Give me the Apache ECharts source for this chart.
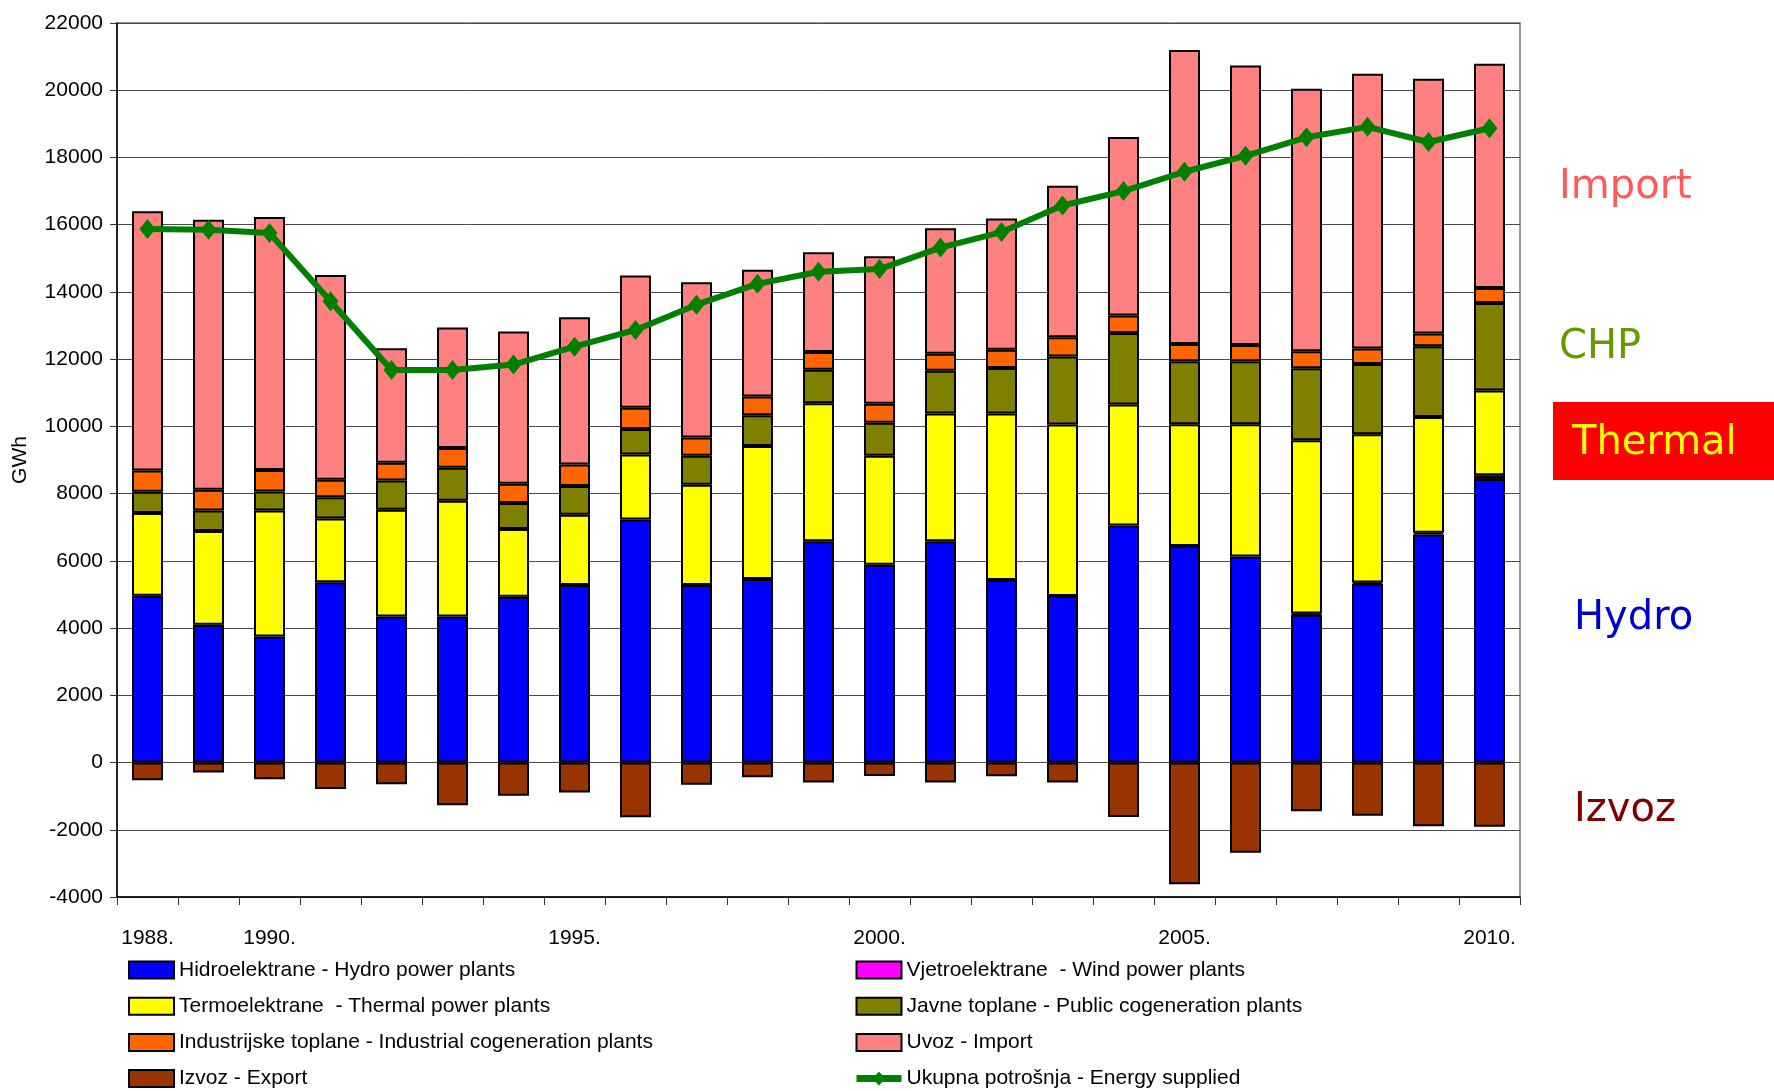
<!DOCTYPE html>
<html>
<head>
<meta charset="utf-8">
<title>Electricity supply 1988-2010</title>
<script src="https://cdn.jsdelivr.net/npm/echarts@6/dist/echarts.min.js"></script>
<style>
  html, body { margin: 0; padding: 0; background: #ffffff; }
  #chart { width: 1774px; height: 1091px; }
</style>
</head>
<body>
<div id="chart"></div>
<script>
// Yearly electricity balance, GWh
const years = ['1988','1989','1990','1991','1992','1993','1994','1995','1996','1997','1998','1999',
               '2000','2001','2002','2003','2004','2005','2006','2007','2008','2009','2010'];
const labelledYears = ['1988','1990','1995','2000','2005','2010'];

const hydro      = [4960,4100,3750,5360,4345,4345,4930,5280,7230,5285,5457,6583,5881,6583,5430,4954,7050,6440,6127,4395,5313,6785,8433];
const wind       = [null,null,null,null,null,null,null,null,null,null,null,null,null,null,null,null,null,null,null,35,40,50,115];
const thermal    = [2460,2785,3750,1900,3175,3443,2014,2091,1935,2980,3960,4106,3245,3801,4954,5099,3600,3623,3936,5156,4414,3442,2520];
const publicCHP  = [635,615,565,635,873,982,774,853,755,861,914,993,980,1272,1351,2027,2125,1878,1878,2141,2091,2108,2602];
const industCHP  = [635,615,635,516,526,586,576,645,636,543,556,530,569,503,543,569,520,510,477,510,462,379,445];
const importData = [7710,8035,7530,6090,3408,3584,4528,4381,3934,4622,3775,2967,4385,3735,3907,4511,5316,8746,8318,7807,8169,7576,6670];
const exportData = [-530,-300,-500,-790,-645,-1270,-990,-890,-1630,-660,-437,-596,-397,-596,-411,-596,-1620,-3623,-2685,-1449,-1581,-1894,-1910];
const supplied   = [15870,15850,15750,13720,11680,11680,11840,12370,12870,13620,14240,14600,14680,15320,15780,16570,17000,17575,18050,18600,18910,18460,18870];

const NAMES = {
  hydro: 'Hidroelektrane - Hydro power plants',
  wind: 'Vjetroelektrane  - Wind power plants',
  thermal: 'Termoelektrane  - Thermal power plants',
  pub: 'Javne toplane - Public cogeneration plants',
  ind: 'Industrijske toplane - Industrial cogeneration plants',
  imp: 'Uvoz - Import',
  exp: 'Izvoz - Export',
  sup: 'Ukupna potrošnja - Energy supplied'
};

const FONT = "'Liberation Sans', Arial, sans-serif";
const ANNOT_FONT = "'DejaVu Sans', Verdana, sans-serif";

function barSeries(name, data, color) {
  return {
    name: name,
    type: 'bar',
    stack: 'balance',
    barWidth: 31,
    data: data,
    itemStyle: { color: color, borderColor: '#000000', borderWidth: 2 },
    emphasis: { disabled: true }
  };
}

const legendText = { fontFamily: FONT, fontSize: 21, color: '#000000', lineHeight: 22 };

function legendColumn(left, items) {
  return {
    orient: 'vertical', left: left, top: 959, height: 135,
    padding: 0,
    itemWidth: 45, itemHeight: 17, itemGap: 14.2,
    textStyle: legendText, selectedMode: false,
    data: items
  };
}

function boxItem(name) {
  return { name: name, icon: 'rect' };
}

const chart = echarts.init(document.getElementById('chart'), null, { renderer: 'canvas' });

chart.setOption({
  animation: false,
  backgroundColor: '#ffffff',
  grid: {
    left: 117, top: 23, right: 254, bottom: 194,
    containLabel: false,
    outerBoundsMode: 'none',
    show: true, borderColor: '#999999', borderWidth: 2, backgroundColor: 'transparent'
  },
  xAxis: {
    type: 'category',
    data: years,
    boundaryGap: true,
    axisLine: { onZero: false, lineStyle: { color: '#000000', width: 1.5 } },
    axisTick: { show: true, interval: 0, alignWithLabel: false, length: 8, lineStyle: { color: '#333333', width: 1 } },
    axisLabel: {
      interval: function (idx, val) { return labelledYears.indexOf(val) >= 0; },
      formatter: function (v) { return v + '.'; },
      fontFamily: FONT, fontSize: 21, color: '#000000', margin: 31
    },
    splitLine: { show: false }
  },
  yAxis: {
    type: 'value',
    min: -4000, max: 22000, interval: 2000,
    name: 'GWh',
    nameLocation: 'middle',
    nameGap: 86,
    nameRotate: 90,
    nameTextStyle: { fontFamily: FONT, fontSize: 21, color: '#000000' },
    axisLine: { show: true, lineStyle: { color: '#000000', width: 1.5 } },
    axisTick: { show: true, length: 7, lineStyle: { color: '#333333', width: 1 } },
    axisLabel: {
      formatter: function (v) { return String(v); },
      fontFamily: FONT, fontSize: 21, color: '#000000', margin: 14
    },
    splitLine: { show: true, lineStyle: { color: '#4a4a4a', width: 1 } }
  },
  legend: [
    legendColumn(128, [boxItem(NAMES.hydro), boxItem(NAMES.thermal), boxItem(NAMES.ind), boxItem(NAMES.exp)]),
    legendColumn(853, [boxItem(NAMES.wind), boxItem(NAMES.pub), boxItem(NAMES.imp),
      { name: NAMES.sup, lineStyle: { width: 7 }, itemStyle: { color: '#008000' } }])
  ],
  series: [
    barSeries(NAMES.hydro, hydro, '#0000FF'),
    barSeries(NAMES.wind, wind, '#FF00FF'),
    barSeries(NAMES.thermal, thermal, '#FFFF00'),
    barSeries(NAMES.pub, publicCHP, '#808000'),
    barSeries(NAMES.ind, industCHP, '#FF6600'),
    barSeries(NAMES.imp, importData, '#FF8080'),
    barSeries(NAMES.exp, exportData, '#993300'),
    {
      name: NAMES.sup,
      type: 'line',
      data: supplied,
      z: 5,
      symbol: 'diamond',
      symbolSize: [16, 20],
      lineStyle: { color: '#008000', width: 6 },
      itemStyle: { color: '#008000', borderWidth: 0 },
      emphasis: { disabled: true }
    }
  ],
  graphic: [
    { type: 'text', left: 1559, top: 168,
      style: { text: 'Import', fontFamily: ANNOT_FONT, fontSize: 40, fill: '#FF5A5A' } },
    { type: 'text', left: 1559, top: 328,
      style: { text: 'CHP', fontFamily: ANNOT_FONT, fontSize: 40, fill: '#669900' } },
    { type: 'rect', shape: { x: 1553, y: 402, width: 221, height: 78 },
      style: { fill: '#FF0000' } },
    { type: 'text', left: 1572, top: 424,
      style: { text: 'Thermal', fontFamily: ANNOT_FONT, fontSize: 40, fill: '#FFFF00' } },
    { type: 'text', left: 1574, top: 599,
      style: { text: 'Hydro', fontFamily: ANNOT_FONT, fontSize: 40, fill: '#0000CC' } },
    { type: 'text', left: 1574, top: 791,
      style: { text: 'Izvoz', fontFamily: ANNOT_FONT, fontSize: 40, fill: '#800000' } }
  ]
});
</script>
</body>
</html>
